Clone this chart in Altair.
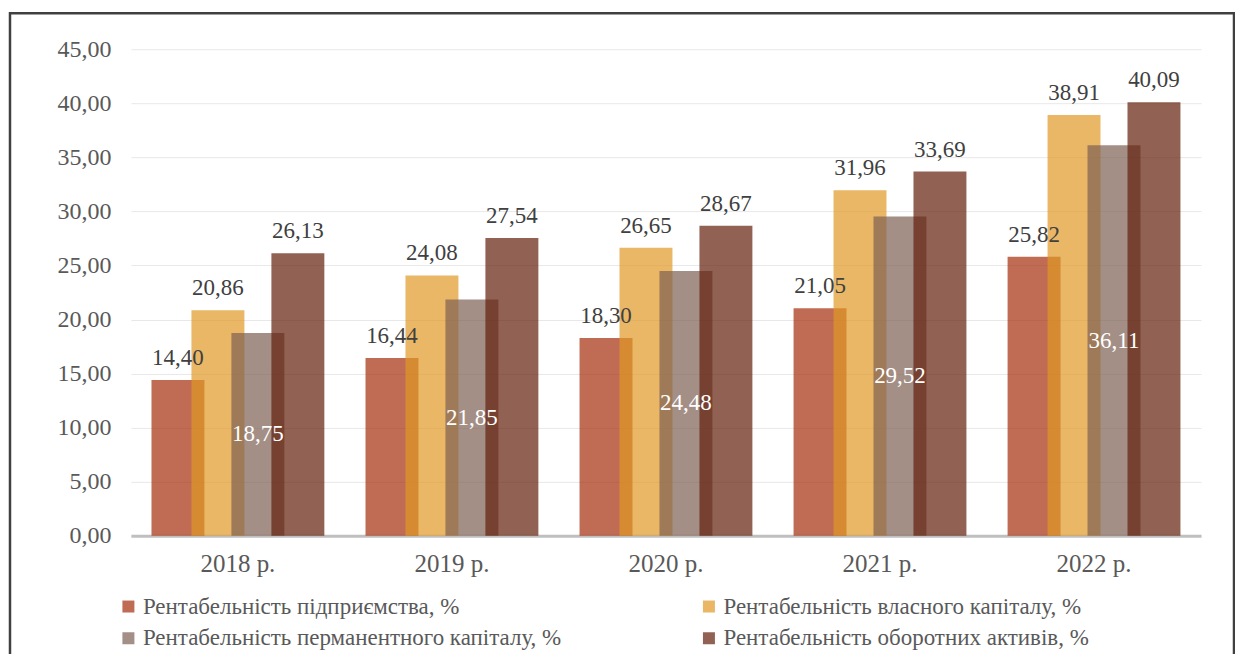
import altair as alt
import pandas as pd

years = ["2018 р.", "2019 р.", "2020 р.", "2021 р.", "2022 р."]
series = [
    "Рентабельність підприємства, %",
    "Рентабельність власного капіталу, %",
    "Рентабельність перманентного капіталу, %",
    "Рентабельність оборотних активів, %",
]
s1 = [14.40, 16.44, 18.30, 21.05, 25.82]
s2 = [20.86, 24.08, 26.65, 31.96, 38.91]
s3 = [18.75, 21.85, 24.48, 29.52, 36.11]
s4 = [26.13, 27.54, 28.67, 33.69, 40.09]
colors = ["#A52D0D", "#E09824", "#7E5F53", "#631F0B"]
y_ticks = [0, 5, 10, 15, 20, 25, 30, 35, 40, 45]

# legend is filled column by column: order so rows read s1 s2 / s3 s4
legend_order = [series[0], series[2], series[1], series[3]]
legend_colors = [colors[0], colors[2], colors[1], colors[3]]

rows = []
for i, y in enumerate(years):
    for name, vals in zip(series, [s1, s2, s3, s4]):
        rows.append({"year": y, "series": name, "value": vals[i]})
df = pd.DataFrame(rows)

FONT = "'Times New Roman', 'Liberation Serif', serif"
W, H = 1071, 487

x_enc = alt.X("year:N", sort=years, title=None,
              scale=alt.Scale(paddingInner=0.253, paddingOuter=0.1265),
              axis=alt.Axis(labelFontSize=25, labelFont=FONT, labelColor="#595959",
                            labelPadding=16, ticks=False, domainColor="#BFBFBF",
                            domainWidth=3, labelAngle=0))
xo_enc = alt.XOffset("series:N", sort=series,
                     scale=alt.Scale(paddingInner=0, paddingOuter=0))
y_enc = alt.Y("value:Q", title=None,
              scale=alt.Scale(domain=[0, 45], nice=False),
              axis=alt.Axis(values=y_ticks, labelFontSize=24, labelFont=FONT,
                            labelColor="#595959", labelPadding=20, ticks=False,
                            domain=False, gridColor="#E8E8E8", gridWidth=1,
                            labelExpr="replace(format(datum.value, '.2f'), '.', ',')"))

base = alt.Chart(df).transform_calculate(
    label="replace(format(datum.value, '.2f'), '.', ',')",
    half="datum.value / 2",
)

bars = base.mark_bar(size=53, opacity=0.7).encode(
    x=x_enc,
    xOffset=xo_enc,
    y=y_enc,
    color=alt.Color("series:N", sort=legend_order,
                    scale=alt.Scale(domain=legend_order, range=legend_colors),
                    legend=alt.Legend(title=None, orient="none", legendX=-14, legendY=546,
                                      columns=2, columnPadding=136, rowPadding=8,
                                      symbolType="square", symbolSize=144,
                                      symbolOpacity=0.7, symbolStrokeWidth=0,
                                      labelFont=FONT, labelFontSize=23,
                                      labelColor="#595959", labelLimit=700,
                                      labelOffset=3, padding=0)),
)

top_labels = base.transform_filter(
    alt.datum.series != series[2]
).mark_text(font=FONT, fontSize=23, color="#404040", baseline="bottom", dy=-10).encode(
    x=alt.X("year:N", sort=years),
    xOffset=alt.XOffset("series:N", sort=series),
    y="value:Q",
    text="label:N",
)

mid_labels = base.transform_filter(
    alt.datum.series == series[2]
).mark_text(font=FONT, fontSize=23, color="white", baseline="middle").encode(
    x=alt.X("year:N", sort=years),
    xOffset=alt.XOffset("series:N", sort=series),
    y="half:Q",
    text="label:N",
)

frame = alt.Chart(pd.DataFrame({"a": [0]})).mark_rect(
    fill=None, stroke="#404040", strokeWidth=2.5
).encode(x=alt.value(-121), x2=alt.value(1104), y=alt.value(-36), y2=alt.value(700))

chart = alt.layer(bars, top_labels, mid_labels, frame).properties(
    width=W, height=H,
    padding={"left": 123, "top": 41, "right": 34, "bottom": 118},
    autosize=alt.AutoSizeParams(type="none"),
).configure(background="white", font=FONT).configure_view(stroke=None)

chart.save("out.html", embed_options={"renderer": "svg", "actions": False})
